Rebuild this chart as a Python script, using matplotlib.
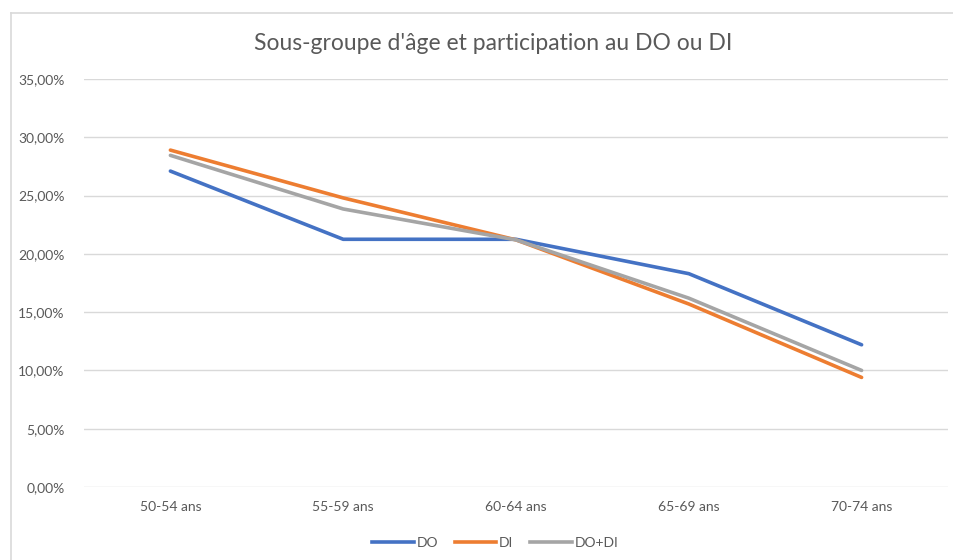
import matplotlib.pyplot as plt
from matplotlib.lines import Line2D
from matplotlib.ticker import FuncFormatter

categories = ["50-54 ans", "55-59 ans", "60-64 ans", "65-69 ans", "70-74 ans"]
do_vals = [27.1, 21.25, 21.25, 18.3, 12.2]
di_vals = [28.9, 24.8, 21.2, 15.7, 9.4]
dodi_vals = [28.45, 23.85, 21.2, 16.2, 10.0]
series_names = ["DO", "DI", "DO+DI"]
colors = ["#4472C4", "#ED7D31", "#A5A5A5"]

plt.rcParams['font.family'] = ['Lato', 'DejaVu Sans']

fig = plt.figure(figsize=(9.54, 5.6), dpi=100)
W, H = 954, 560
ax = fig.add_axes([84 / W, 1 - 487 / H, (948 - 84) / W, (487 - 79) / H])

x = list(range(len(categories)))
for vals, name, c in zip([do_vals, di_vals, dodi_vals], series_names, colors):
    ax.plot(x, vals, color=c, lw=2.6, label=name, solid_capstyle='round', zorder=3)

ax.set_xlim(-0.5, len(categories) - 0.5)
ax.set_ylim(0, 35)
ax.set_yticks([0, 5, 10, 15, 20, 25, 30, 35])
ax.yaxis.set_major_formatter(FuncFormatter(lambda v, p: f"{v:.2f}%".replace(".", ",")))
ax.set_xticks(x)
ax.set_xticklabels(categories)
ax.grid(axis='y', color='#D9D9D9', lw=1)
ax.set_axisbelow(True)
for s in ax.spines.values():
    s.set_visible(False)
ax.tick_params(length=0, labelsize=10, labelcolor='#595959')
ax.tick_params(axis='y', pad=14)
ax.tick_params(axis='x', pad=10)

fig.text(493 / W, 1 - 43 / H, "Sous-groupe d'âge et participation au DO ou DI",
         ha='center', va='center', fontsize=16.5, color='#595959')

handles = [Line2D([0], [0], color=c, lw=2.6) for c in colors]
fig.legend(handles, series_names, loc='center', bbox_to_anchor=(495 / W, 1 - 543 / H),
           ncol=3, frameon=False, fontsize=10, labelcolor='#595959',
           handlelength=3.0, handletextpad=0.2, columnspacing=1.2)

# outer chart frame (left and top edges visible)
fig.add_artist(Line2D([11 / W, 11 / W], [0, 1 - 13 / H], color='#D9D9D9', lw=1.2,
                      transform=fig.transFigure))
fig.add_artist(Line2D([11 / W, 1], [1 - 13 / H, 1 - 13 / H], color='#D9D9D9', lw=1.2,
                      transform=fig.transFigure))

fig.savefig("out.png", dpi=100, facecolor='white')
